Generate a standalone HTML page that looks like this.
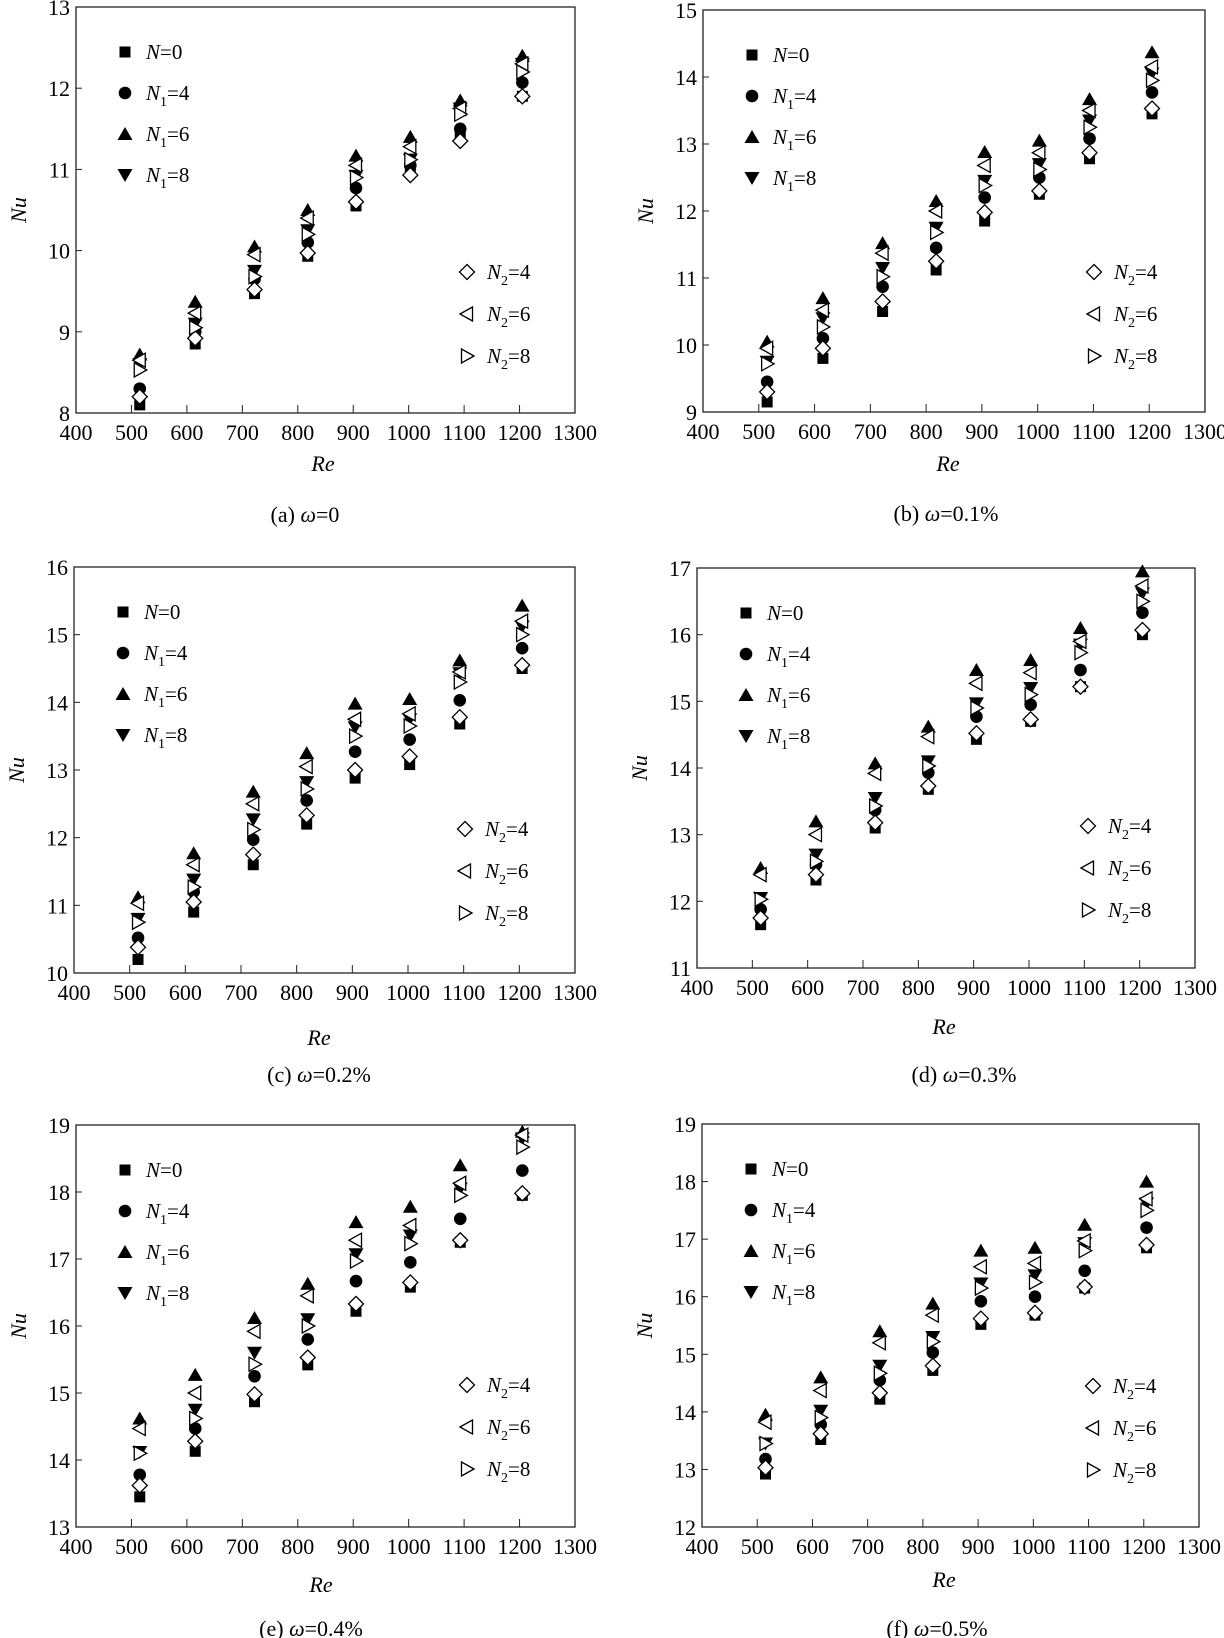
<!DOCTYPE html>
<html><head><meta charset="utf-8">
<style>
html,body{margin:0;padding:0;background:#fff;}
svg{display:block;font-family:"Liberation Serif",serif;}
</style></head>
<body>
<svg id="fig" width="1224" height="1638" viewBox="0 0 1224 1638" xmlns="http://www.w3.org/2000/svg"></svg>
<script>
const reValues = [515, 615, 722, 818, 905, 1003, 1093, 1205];
const xTicks = [400,500,600,700,800,900,1000,1100,1200,1300];
const seriesKeys = ["N0","N1_4","N1_6","N1_8","N2_4","N2_6","N2_8"];

const aN0  = [8.1, 8.85, 9.47, 9.93, 10.55, 11.0, 11.4, 11.9];
const aN14 = [8.3, 9.0, 9.65, 10.1, 10.77, 11.05, 11.5, 12.07];
const aN16 = [8.72, 9.37, 10.05, 10.5, 11.17, 11.4, 11.85, 12.4];
const aN18 = [8.6, 9.1, 9.75, 10.25, 10.92, 11.12, 11.75, 12.3];
const aN24 = [8.2, 8.92, 9.52, 9.97, 10.6, 10.93, 11.35, 11.9];
const aN26 = [8.65, 9.23, 9.95, 10.4, 11.05, 11.28, 11.75, 12.3];
const aN28 = [8.53, 9.05, 9.68, 10.2, 10.9, 11.12, 11.68, 12.2];
const aYTicks = [8,9,10,11,12,13];

const bN0  = [9.15, 9.8, 10.5, 11.12, 11.85, 12.25, 12.78, 13.45];
const bN14 = [9.45, 10.1, 10.87, 11.45, 12.2, 12.5, 13.08, 13.77];
const bN16 = [10.05, 10.7, 11.52, 12.15, 12.88, 13.05, 13.67, 14.37];
const bN18 = [9.75, 10.4, 11.15, 11.75, 12.45, 12.7, 13.35, 14.05];
const bN24 = [9.3, 9.95, 10.65, 11.25, 11.98, 12.3, 12.87, 13.53];
const bN26 = [9.95, 10.52, 11.37, 12.0, 12.68, 12.87, 13.5, 14.15];
const bN28 = [9.72, 10.27, 11.02, 11.68, 12.38, 12.62, 13.25, 13.95];
const bYTicks = [9,10,11,12,13,14,15];

const cN0  = [10.2, 10.9, 11.6, 12.2, 12.88, 13.08, 13.68, 14.5];
const cN14 = [10.52, 11.2, 11.97, 12.55, 13.27, 13.45, 14.03, 14.8];
const cN16 = [11.12, 11.77, 12.68, 13.25, 13.98, 14.05, 14.62, 15.43];
const cN18 = [10.8, 11.38, 12.27, 12.82, 13.63, 13.75, 14.43, 15.12];
const cN24 = [10.38, 11.05, 11.75, 12.33, 13.0, 13.2, 13.78, 14.55];
const cN26 = [11.03, 11.6, 12.5, 13.05, 13.75, 13.83, 14.45, 15.2];
const cN28 = [10.75, 11.27, 12.12, 12.72, 13.5, 13.65, 14.3, 15.0];
const cYTicks = [10,11,12,13,14,15,16];

const dN0  = [11.65, 12.32, 13.1, 13.68, 14.43, 14.7, 15.22, 16.0];
const dN14 = [11.88, 12.55, 13.37, 13.93, 14.77, 14.95, 15.47, 16.33];
const dN16 = [12.5, 13.2, 14.07, 14.62, 15.47, 15.62, 16.1, 16.95];
const dN18 = [12.05, 12.7, 13.55, 14.1, 14.97, 15.2, 15.85, 16.62];
const dN24 = [11.75, 12.4, 13.18, 13.73, 14.52, 14.73, 15.22, 16.07];
const dN26 = [12.4, 13.0, 13.92, 14.47, 15.27, 15.43, 15.9, 16.73];
const dN28 = [12.03, 12.6, 13.43, 14.03, 14.9, 15.1, 15.73, 16.5];
const dYTicks = [11,12,13,14,15,16,17];

const eN0  = [13.45, 14.13, 14.87, 15.42, 16.22, 16.58, 17.25, 17.95];
const eN14 = [13.78, 14.47, 15.25, 15.8, 16.67, 16.95, 17.6, 18.32];
const eN16 = [14.62, 15.27, 16.12, 16.63, 17.55, 17.78, 18.4, 18.9];
const eN18 = [14.12, 14.75, 15.6, 16.1, 17.07, 17.35, 18.05, 18.8];
const eN24 = [13.62, 14.28, 14.98, 15.53, 16.33, 16.65, 17.28, 17.98];
const eN26 = [14.47, 15.0, 15.92, 16.45, 17.28, 17.5, 18.13, 18.85];
const eN28 = [14.1, 14.62, 15.43, 16.0, 16.97, 17.23, 17.95, 18.67];
const eYTicks = [13,14,15,16,17,18,19];

const fN0  = [12.92, 13.52, 14.22, 14.72, 15.52, 15.68, 16.15, 16.85];
const fN14 = [13.18, 13.78, 14.55, 15.03, 15.92, 16.0, 16.45, 17.2];
const fN16 = [13.95, 14.6, 15.4, 15.88, 16.8, 16.85, 17.25, 18.0];
const fN18 = [13.45, 14.02, 14.8, 15.3, 16.23, 16.37, 16.93, 17.62];
const fN24 = [13.03, 13.62, 14.33, 14.8, 15.62, 15.72, 16.17, 16.9];
const fN26 = [13.82, 14.37, 15.2, 15.68, 16.52, 16.58, 16.97, 17.7];
const fN28 = [13.45, 13.9, 14.67, 15.22, 16.15, 16.25, 16.8, 17.5];
const fYTicks = [12,13,14,15,16,17,18,19];

const NS = "http://www.w3.org/2000/svg";
const svg = document.getElementById("fig");
function mk(tag, attrs, parent){
  const e = document.createElementNS(NS, tag);
  for (const k in attrs) e.setAttribute(k, attrs[k]);
  (parent||svg).appendChild(e);
  return e;
}

function marker(g, type, cx, cy){
  let el;
  if (type==="N0"){ el = mk("rect",{x:cx-5.5,y:cy-5.5,width:11,height:11,fill:"#000"},g); }
  else if (type==="N1_4"){ el = mk("circle",{cx:cx,cy:cy,r:6.3,fill:"#000"},g); }
  else if (type==="N1_6"){ el = mk("polygon",{points:`${cx},${cy-7} ${cx-7.5},${cy+6} ${cx+7.5},${cy+6}`,fill:"#000"},g); }
  else if (type==="N1_8"){ el = mk("polygon",{points:`${cx},${cy+7} ${cx-7.5},${cy-6} ${cx+7.5},${cy-6}`,fill:"#000"},g); }
  else if (type==="N2_4"){ el = mk("polygon",{points:`${cx},${cy-7.5} ${cx+7.5},${cy} ${cx},${cy+7.5} ${cx-7.5},${cy}`,fill:"#fff",stroke:"#000","stroke-width":1.3},g); }
  else if (type==="N2_6"){ el = mk("polygon",{points:`${cx-7},${cy} ${cx+5.5},${cy-7} ${cx+5.5},${cy+7}`,fill:"#fff",stroke:"#000","stroke-width":1.3},g); }
  else { el = mk("polygon",{points:`${cx+7},${cy} ${cx-5.5},${cy-7} ${cx-5.5},${cy+7}`,fill:"#fff",stroke:"#000","stroke-width":1.3},g); }
  return el;
}

function legendLabel(g, x, y, sub, val){
  const t = mk("text",{x:x,y:y,"font-size":21},g);
  const n = mk("tspan",{"font-style":"italic"},t); n.textContent="N";
  if (sub){
    const s = mk("tspan",{"font-size":14,dy:6},t); s.textContent=sub;
    const r = mk("tspan",{dy:-6},t); r.textContent="="+val;
  } else {
    const r = mk("tspan",{},t); r.textContent="="+val;
  }
  return t;
}

function panel(cfg){
  const g = mk("g",{});
  
  
  const L=cfg.l,R=cfg.r,T=cfg.t,B=cfg.b;
  const ymin=cfg.yt[0], ymax=cfg.yt[cfg.yt.length-1];
  const xs = v => L + (v-400)/(1300-400)*(R-L);
  const ys = v => B - (v-ymin)/(ymax-ymin)*(B-T);
  const frame = mk("rect",{x:L,y:T,width:R-L,height:B-T,fill:"none",stroke:"#222","stroke-width":1.3},g);
  
  
  xTicks.forEach(v=>{
    const x=xs(v);
    mk("line",{x1:x,y1:B,x2:x,y2:B-8,stroke:"#222","stroke-width":1},g);
    const t=mk("text",{x:x,y:B+27,"text-anchor":"middle","font-size":22},g);
    t.textContent=v;
    
    
  });
  cfg.yt.forEach(v=>{
    const y=ys(v);
    mk("line",{x1:L,y1:y,x2:L+6,y2:y,stroke:"#222","stroke-width":1},g);
    const t=mk("text",{x:L-6,y:y+8,"text-anchor":"end","font-size":22},g);
    t.textContent=v;
    
    
  });
  const yl=mk("text",{x:0,y:0,"font-size":22,"font-style":"italic","text-anchor":"middle",transform:`translate(${L-50},${(T+B)/2}) rotate(-90)`},g);
  yl.textContent="Nu";
  
  
  const xl=mk("text",{x:cfg.rex,y:cfg.rey+8,"font-size":22,"font-style":"italic","text-anchor":"middle"},g);
  xl.textContent="Re";
  
  
  const cap=mk("text",{x:cfg.capx,y:cfg.capy+8,"font-size":22,"text-anchor":"middle"},g);
  cap.innerHTML='('+cfg.id+') <tspan font-style="italic">ω</tspan>='+cfg.w;
  
  
  const order=["N0","N1_4","N1_6","N1_8","N2_4","N2_6","N2_8"];
  order.forEach(k=>{
    const vals=cfg.data[k];
    vals.forEach((v,i)=>{
      const m=marker(g,k,xs(reValues[i]),ys(v));
      
      
    });
  });
  const lx=L+49, ly=T+45, sp=41;
  const left=[["N0","","0"],["N1_4","1","4"],["N1_6","1","6"],["N1_8","1","8"]];
  left.forEach((e,i)=>{
    const m=marker(g,e[0],lx,ly+i*sp);
    
    
    const t=legendLabel(g,lx+21,ly+i*sp+7,e[1],e[2]);
    
    
  });
  const rx=L+391, ry=T+cfg.lr, right=[["N2_4","2","4"],["N2_6","2","6"],["N2_8","2","8"]];
  right.forEach((e,i)=>{
    const m=marker(g,e[0],rx,ry+i*42);
    
    
    const t=legendLabel(g,rx+20,ry+i*42+7,e[1],e[2]);
    
    
  });
}

panel({id:"a",w:"0",l:76,r:575,t:7,b:413,yt:aYTicks,rex:323,rey:463,capx:305,capy:514,lr:265,
  data:{N0:aN0,N1_4:aN14,N1_6:aN16,N1_8:aN18,N2_4:aN24,N2_6:aN26,N2_8:aN28}});
panel({id:"b",w:"0.1%",l:703,r:1205,t:10,b:412,yt:bYTicks,rex:948,rey:463,capx:946,capy:513,lr:262,
  data:{N0:bN0,N1_4:bN14,N1_6:bN16,N1_8:bN18,N2_4:bN24,N2_6:bN26,N2_8:bN28}});
panel({id:"c",w:"0.2%",l:74,r:575,t:567,b:973,yt:cYTicks,rex:319,rey:1037,capx:319,capy:1074,lr:262,
  data:{N0:cN0,N1_4:cN14,N1_6:cN16,N1_8:cN18,N2_4:cN24,N2_6:cN26,N2_8:cN28}});
panel({id:"d",w:"0.3%",l:697,r:1195,t:568,b:968,yt:dYTicks,rex:944,rey:1026,capx:964,capy:1074,lr:258,
  data:{N0:dN0,N1_4:dN14,N1_6:dN16,N1_8:dN18,N2_4:dN24,N2_6:dN26,N2_8:dN28}});
panel({id:"e",w:"0.4%",l:76,r:575,t:1125,b:1527,yt:eYTicks,rex:321,rey:1584,capx:311,capy:1628,lr:260,
  data:{N0:eN0,N1_4:eN14,N1_6:eN16,N1_8:eN18,N2_4:eN24,N2_6:eN26,N2_8:eN28}});
panel({id:"f",w:"0.5%",l:702,r:1199,t:1124,b:1527,yt:fYTicks,rex:944,rey:1579,capx:937,capy:1628,lr:262,
  data:{N0:fN0,N1_4:fN14,N1_6:fN16,N1_8:fN18,N2_4:fN24,N2_6:fN26,N2_8:fN28}});
</script>
</body></html>
